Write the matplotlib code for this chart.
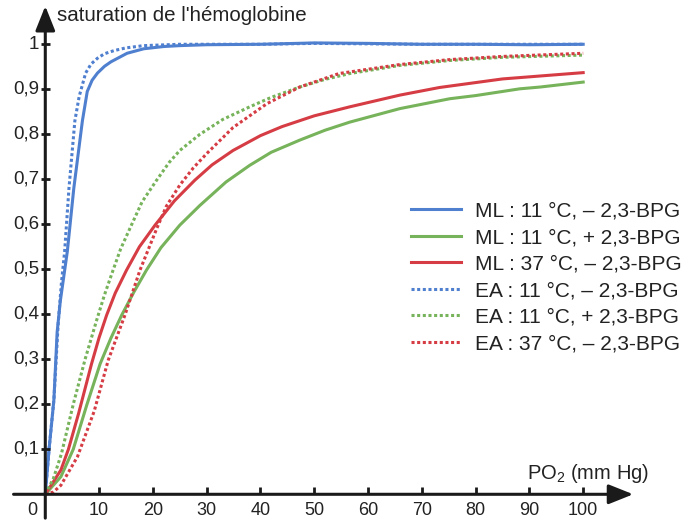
import matplotlib
matplotlib.use("Agg")
import matplotlib.pyplot as plt

plt.rcParams["font.family"] = ["Liberation Sans", "DejaVu Sans"]
plt.rcParams["mathtext.default"] = "regular"

# ML : 11 °C, – 2,3-BPG
ml11_minus_x = [0, 0.7, 1.6, 2.2, 2.8, 4.1, 5.3, 6.9, 7.8, 8.7, 9.7, 11, 12.2, 15.2, 18.3, 22, 25, 30, 40, 50, 60, 70, 80, 90, 100]
ml11_minus_y = [0, 0.1, 0.21, 0.36, 0.43, 0.54, 0.68, 0.83, 0.895, 0.92, 0.936, 0.951, 0.961, 0.98, 0.99, 0.995, 0.997, 0.999, 1.0, 1.003, 1.002, 1.0, 1.0, 0.999, 1.0]

# ML : 11 °C, + 2,3-BPG
ml11_plus_x = [0, 2.9, 5.2, 7.7, 10.2, 12.2, 14.2, 16.5, 18.8, 21.5, 25, 28.75, 33.6, 38, 42, 47.3, 52, 56.6, 65.9, 75.2, 80, 88.2, 92, 100]
ml11_plus_y = [0, 0.039, 0.1, 0.198, 0.29, 0.347, 0.398, 0.45, 0.498, 0.548, 0.598, 0.642, 0.694, 0.731, 0.76, 0.787, 0.809, 0.827, 0.857, 0.879, 0.886, 0.901, 0.905, 0.916]

# ML : 37 °C, – 2,3-BPG
ml37_minus_x = [0, 2.9, 4.3, 6.2, 8.6, 10, 11.4, 13, 15.1, 17.5, 20.4, 24, 27.8, 31, 34.9, 40, 44, 50, 56.6, 65.9, 73.3, 85, 100]
ml37_minus_y = [0, 0.054, 0.1, 0.18, 0.29, 0.348, 0.398, 0.447, 0.498, 0.55, 0.598, 0.652, 0.698, 0.732, 0.764, 0.797, 0.817, 0.841, 0.861, 0.887, 0.904, 0.923, 0.937]

# EA : 11 °C, – 2,3-BPG
ea11_minus_x = [0, 0.7, 1.6, 2.4, 3.0, 3.6, 4.4, 5.5, 6.3, 7.5, 8.5, 9.7, 11, 12.8, 15, 18.3, 25, 30, 40, 50, 60, 70, 80, 90, 100]
ea11_minus_y = [0, 0.1, 0.21, 0.38, 0.47, 0.54, 0.68, 0.83, 0.884, 0.936, 0.956, 0.969, 0.979, 0.986, 0.992, 0.997, 1.0, 1.0, 1.0, 1.002, 1.001, 1.0, 1.0, 1.0, 1.0]

# EA : 11 °C, + 2,3-BPG
ea11_plus_x = [0, 1.5, 3.0, 5.2, 7.4, 9.5, 11, 12.6, 14, 15.7, 18, 20.7, 23, 25, 28.75, 33, 38, 42, 47.3, 52, 56.6, 65.9, 75.2, 85, 100]
ea11_plus_y = [0, 0.035, 0.09, 0.2, 0.3, 0.385, 0.443, 0.498, 0.545, 0.59, 0.65, 0.698, 0.737, 0.764, 0.8, 0.833, 0.861, 0.882, 0.905, 0.922, 0.935, 0.953, 0.964, 0.971, 0.976]

# EA : 37 °C, – 2,3-BPG
ea37_minus_x = [0, 1.5, 2.9, 6.0, 9.1, 11.7, 14.8, 17.6, 20.7, 22.5, 25, 27.5, 30, 34.9, 41.2, 47.3, 54.6, 65.9, 75.2, 85, 100]
ea37_minus_y = [0, 0.005, 0.02, 0.084, 0.185, 0.298, 0.398, 0.498, 0.59, 0.64, 0.687, 0.725, 0.757, 0.815, 0.868, 0.905, 0.935, 0.955, 0.966, 0.973, 0.98]

x_ticks = [10, 20, 30, 40, 50, 60, 70, 80, 90, 100]
y_ticks = [0.1, 0.2, 0.3, 0.4, 0.5, 0.6, 0.7, 0.8, 0.9, 1.0]
y_tick_labels = ["0,1", "0,2", "0,3", "0,4", "0,5", "0,6", "0,7", "0,8", "0,9", "1"]

blue = "#4f7fcf"
green = "#77b35a"
red = "#d63c44"
axis_col = "#1a1a1a"
text_col = "#222222"
dot = (0, (1, 0.85))

fig = plt.figure(figsize=(6.87, 5.23), dpi=100)
ax = fig.add_axes([0, 0, 1, 1])
ax.set_xlim(-8.42, 119.3)
ax.set_ylim(-0.0638, 1.0984)
ax.axis("off")

lw = 2.2
ax.plot(ml11_minus_x, ml11_minus_y, color=blue, lw=lw, label="ML : 11 °C, – 2,3-BPG")
ax.plot(ml11_plus_x, ml11_plus_y, color=green, lw=lw, label="ML : 11 °C, + 2,3-BPG")
ax.plot(ml37_minus_x, ml37_minus_y, color=red, lw=lw, label="ML : 37 °C, – 2,3-BPG")
ax.plot(ea11_minus_x, ea11_minus_y, color=blue, lw=lw, ls=dot, label="EA : 11 °C, – 2,3-BPG")
ax.plot(ea11_plus_x, ea11_plus_y, color=green, lw=lw, ls=dot, label="EA : 11 °C, + 2,3-BPG")
ax.plot(ea37_minus_x, ea37_minus_y, color=red, lw=lw, ls=dot, label="EA : 37 °C, – 2,3-BPG")

# axes with arrows
arrow = dict(arrowstyle="-|>,head_length=0.75,head_width=0.3", lw=2.2,
             color=axis_col, shrinkA=0, shrinkB=0, mutation_scale=20)
ax.annotate("", xy=(109.3, 0), xytext=(-5.9, 0), arrowprops=arrow)
ax.annotate("", xy=(0, 1.085), xytext=(0, -0.053), arrowprops=arrow)

# tick marks
ax.hlines(y_ticks, -0.85, 0.85, color=axis_col, lw=2)
ax.vlines(x_ticks, 0, 0.016, color=axis_col, lw=2)

for v, lab in zip(y_ticks, y_tick_labels):
    ax.text(-1.1, v, lab, ha="right", va="center", fontsize=13.5, color=text_col)
for v in x_ticks:
    ax.text(v, -0.037, str(v), ha="center", va="center", fontsize=13, color=text_col)
ax.text(-2.5, -0.037, "0", ha="center", va="center", fontsize=13, color=text_col)

ax.text(2.2, 1.063, "saturation de l'hémoglobine", ha="left", va="center",
        fontsize=14.8, color=text_col)
ax.text(89.5, 0.047, "PO$_2$ (mm Hg)", ha="left", va="center", fontsize=14.5, color=text_col)

ax.legend(loc="upper left", bbox_to_anchor=(68.0, 0.65), bbox_transform=ax.transData,
          frameon=False, fontsize=15, handlelength=2.4, handletextpad=0.65,
          labelspacing=0.36, borderpad=0, borderaxespad=0, labelcolor=text_col)

fig.savefig("out.png", dpi=100)
